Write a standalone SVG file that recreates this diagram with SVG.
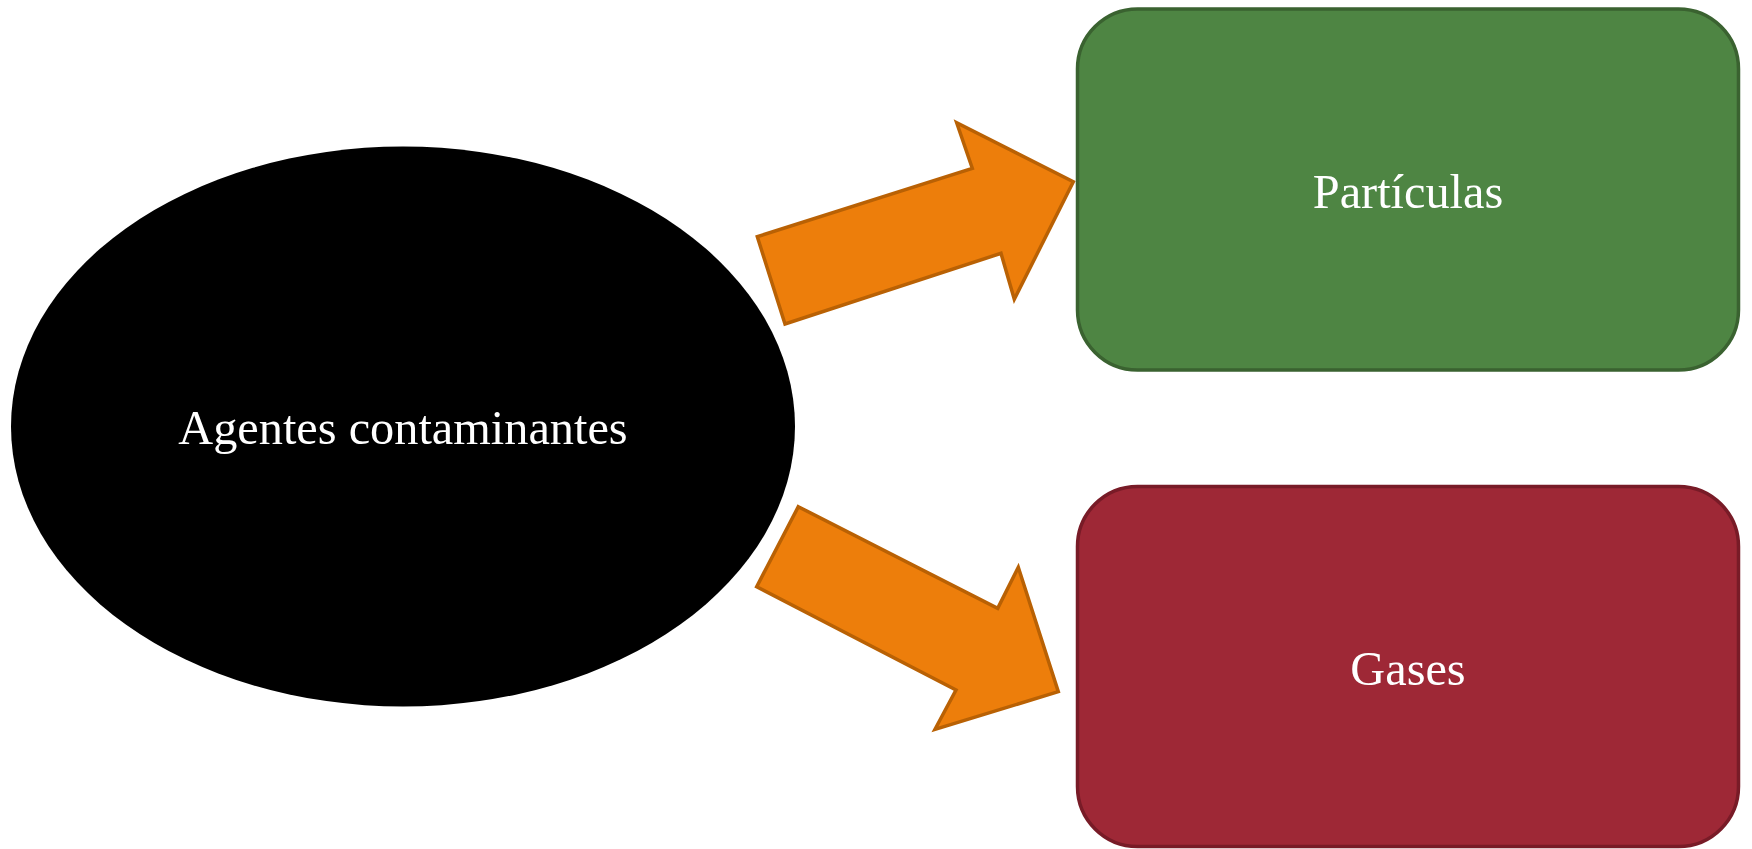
<svg xmlns="http://www.w3.org/2000/svg" width="1752" height="849" viewBox="0 0 1752 849">
  <style>
    .label { font-family: 'Liberation Serif', 'Times New Roman', serif; font-size: 48.3px; fill: #ffffff; text-anchor: middle; }
    .arrow { fill: #ED7E0B; stroke: #B96104; stroke-width: 3.5; stroke-linejoin: miter; }
  </style>
  <rect width="1752" height="849" fill="#ffffff"/>

  <!-- Block arrows -->
  <g id="connectors">
    <polygon class="arrow" points="785,324 757.3,236.7 972.3,168.3 956.7,122.7 1073.3,181.7 1014.3,299.3 1001,253.3"/>
    <polygon class="arrow" points="798.3,506.7 997.7,608.3 1018.3,567.3 1058.3,691.7 935,729.3 956,690 756.7,586.7"/>
  </g>

  <g id="agentes">
    <ellipse cx="403" cy="426.5" rx="392" ry="280" fill="#000000"/>
    <text class="label" x="403" y="444">Agentes contaminantes</text>
  </g>

  <g id="particulas">
    <rect x="1077.5" y="9" width="661" height="361" rx="60" ry="60" fill="#4E8543" stroke="#3A6230" stroke-width="3.5"/>
    <text class="label" x="1408" y="208">Partículas</text>
  </g>

  <g id="gases">
    <rect x="1077.5" y="486.5" width="661" height="360" rx="60" ry="60" fill="#9E2836" stroke="#781B27" stroke-width="3.5"/>
    <text class="label" x="1408" y="685">Gases</text>
  </g>
</svg>
